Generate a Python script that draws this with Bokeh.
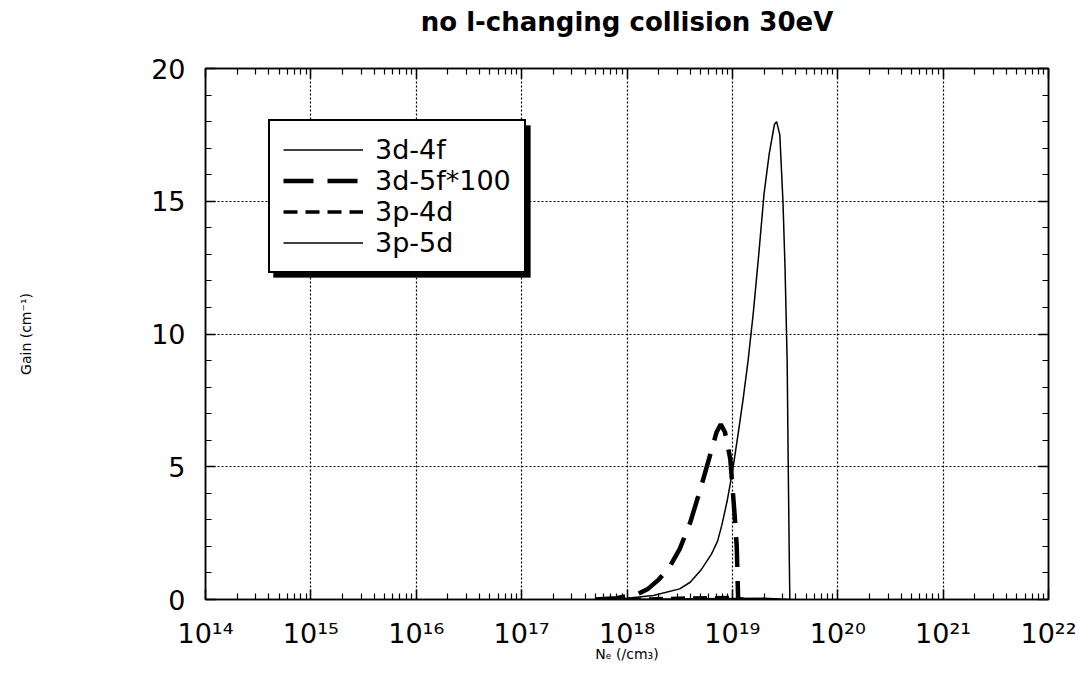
from bokeh.plotting import figure
from bokeh.models import (LogAxis, LinearAxis, FixedTicker, Legend, LegendItem,
                          BoxAnnotation)
from bokeh.embed import file_html
from bokeh.resources import INLINE

# ---------------- data ----------------
title_text = "no l-changing collision 30eV"

ne_3d4f = [6.0e17, 1.0e18, 1.78e18, 3.16e18, 3.98e18, 5.01e18, 6.31e18, 7.24e18,
           7.94e18, 8.91e18, 1.0e19, 1.12e19, 1.26e19, 1.41e19, 1.58e19, 1.78e19,
           2.0e19, 2.24e19, 2.51e19, 2.63e19, 2.82e19, 3.02e19, 3.16e19, 3.31e19,
           3.39e19, 3.47e19, 3.51e19]
gain_3d4f = [0.0, 0.05, 0.15, 0.4, 0.65, 1.1, 1.7, 2.2,
             2.8, 3.7, 4.8, 6.1, 7.5, 9.0, 10.8, 13.0,
             15.3, 16.8, 17.9, 18.0, 17.5, 15.0, 12.5, 9.0,
             5.0, 1.5, 0.0]

ne_3d5f = [5.0e17, 7.94e17, 1.26e18, 1.58e18, 2.0e18, 2.51e18, 3.16e18, 3.98e18,
           5.01e18, 6.31e18, 7.08e18, 7.76e18, 8.51e18, 9.55e18, 1.05e19, 1.10e19,
           1.12e19, 1.135e19]
gain_3d5f_x100 = [0.0, 0.05, 0.2, 0.4, 0.75, 1.2, 1.9, 2.9,
                  4.2, 5.6, 6.3, 6.6, 6.3, 5.3, 3.2, 2.0,
                  0.8, 0.0]

ne_3p4d = [1.0e18, 3.16e18, 1.0e19, 1.3e19]
gain_3p4d = [0.0, 0.05, 0.08, 0.0]

ne_3p5d = [1.0e18, 5.0e18, 2.0e19, 3.5e19]
gain_3p5d = [0.0, 0.03, 0.05, 0.0]

x_ticks = [1e14, 1e15, 1e16, 1e17, 1e18, 1e19, 1e20, 1e21, 1e22]
x_tick_labels = ["10¹⁴", "10¹⁵", "10¹⁶", "10¹⁷", "10¹⁸", "10¹⁹", "10²⁰", "10²¹", "10²²"]
y_ticks = [0, 5, 10, 15, 20]

FONT = "DejaVu Sans"

p = figure(width=1079, height=700, x_axis_type="log",
           x_range=(1e14, 1e22), y_range=(0, 20),
           output_backend="svg", toolbar_location=None,
           min_border_left=205, min_border_right=31,
           min_border_top=68, min_border_bottom=101)

p.outline_line_color = "black"
p.outline_line_width = 1.5
p.background_fill_color = "white"
p.border_fill_color = "white"

minor_x = [m * 10 ** k for k in range(14, 22) for m in range(2, 10)]
xt = FixedTicker(ticks=x_ticks, minor_ticks=minor_x)
yt = FixedTicker(ticks=y_ticks, minor_ticks=list(range(1, 20)))
overrides = dict(zip(x_ticks, x_tick_labels))


def style(ax, labels=True):
    ax.axis_line_color = "black"
    ax.axis_line_width = 1.5
    ax.major_tick_in = 10
    ax.major_tick_out = 0
    ax.minor_tick_in = 6
    ax.minor_tick_out = 0
    ax.major_tick_line_color = "black"
    ax.minor_tick_line_color = "black"
    ax.major_tick_line_width = 1.5
    ax.minor_tick_line_width = 1.2
    ax.major_label_text_font = FONT
    ax.major_label_text_color = "black"
    if not labels:
        ax.major_label_text_font_size = "0px"
        ax.major_label_text_alpha = 0
        ax.major_label_standoff = 0


bx = p.xaxis[0]
bx.ticker = xt
bx.major_label_overrides = overrides
style(bx)
bx.major_label_text_font_size = "27px"
bx.major_label_standoff = 18
bx.axis_label = "Nₑ (/cm₃)"
bx.axis_label_text_font = FONT
bx.axis_label_text_font_size = "14px"
bx.axis_label_text_font_style = "normal"
bx.axis_label_text_color = "black"
bx.axis_label_standoff = -6

ly = p.yaxis[0]
ly.ticker = yt
style(ly)
ly.major_label_text_font_size = "27px"
ly.major_label_standoff = 20
ly.axis_label = "Gain (cm⁻¹)"
ly.axis_label_text_font = FONT
ly.axis_label_text_font_size = "14px"
ly.axis_label_text_font_style = "normal"
ly.axis_label_text_color = "black"
ly.axis_label_standoff = 114

# top axis carries the chart title as its label (centred over the frame)
top = LogAxis(ticker=xt)
style(top, labels=False)
top.axis_label = title_text
top.axis_label_text_font = FONT
top.axis_label_text_font_size = "26px"
top.axis_label_text_font_style = "bold"
top.axis_label_text_color = "black"
top.axis_label_standoff = 32
p.add_layout(top, "above")

right = LinearAxis(ticker=yt)
style(right, labels=False)
p.add_layout(right, "right")

p.xgrid.ticker = xt
p.ygrid.ticker = yt
for g in (p.xgrid[0], p.ygrid[0]):
    g.grid_line_color = "black"
    g.grid_line_width = 1.2
    g.grid_line_dash = "2 2"
    g.grid_line_alpha = 1.0

r1 = p.line(ne_3d4f, gain_3d4f, line_color="black", line_width=1.5)
r2 = p.line(ne_3d5f, gain_3d5f_x100, line_color="black", line_width=4.5,
            line_dash="30 14")
r3 = p.line(ne_3p4d, gain_3p4d, line_color="black", line_width=3.5,
            line_dash="14 8")
r4 = p.line(ne_3p5d, gain_3p5d, line_color="black", line_width=1.5)

# drop shadow of the legend box
shadow = BoxAnnotation(left=10 ** 14.645, right=10 ** 17.084, top=17.85, bottom=12.13,
                       fill_color="black", fill_alpha=1.0, line_color="black")
p.add_layout(shadow)

legend = Legend(items=[LegendItem(label="3d-4f", renderers=[r1]),
                       LegendItem(label="3d-5f*100", renderers=[r2]),
                       LegendItem(label="3p-4d", renderers=[r3]),
                       LegendItem(label="3p-5d", renderers=[r4])],
                location=(63, 326))
legend.margin = 0
legend.padding = 13
legend.spacing = 0
legend.glyph_width = 80
legend.glyph_height = 27
legend.label_height = 27
legend.label_standoff = 12
legend.label_text_font = FONT
legend.label_text_font_size = "27px"
legend.label_text_color = "black"
legend.border_line_color = "black"
legend.border_line_width = 2
legend.border_line_alpha = 1.0
legend.background_fill_color = "white"
legend.background_fill_alpha = 1.0
p.add_layout(legend, "center")

open("out.html", "w").write(file_html(p, INLINE))
